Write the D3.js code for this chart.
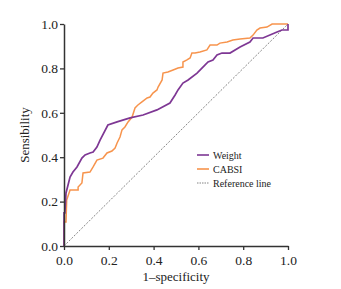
<!DOCTYPE html>
<html><head><meta charset="utf-8">
<script src="https://cdn.jsdelivr.net/npm/d3@7"></script>
<style>body{margin:0;background:#fff;}svg{display:block;}</style>
</head><body>
<svg id="c" width="341" height="289"></svg>
<script>
const tickValues = [0, 0.2, 0.4, 0.6, 0.8, 1.0];
const seriesNames = ["Weight", "CABSI", "Reference line"];
const weightX = [0,0,0.004,0.009,0.027,0.04,0.058,0.08,0.094,0.116,0.13,0.147,0.161,0.196,0.237,0.295,0.353,0.415,0.473,0.496,0.509,0.531,0.554,0.594,0.629,0.643,0.665,0.683,0.705,0.741,0.786,0.83,0.844,0.888,0.951,0.973,1,1];
const weightY = [0,0.149,0.149,0.239,0.311,0.333,0.356,0.396,0.41,0.419,0.423,0.446,0.477,0.545,0.559,0.577,0.59,0.613,0.644,0.68,0.703,0.734,0.748,0.779,0.815,0.829,0.838,0.86,0.869,0.869,0.896,0.919,0.937,0.937,0.964,0.973,0.973,1];
const cabsiX = [0,0,0.009,0.012,0.027,0.063,0.063,0.08,0.085,0.116,0.13,0.147,0.174,0.192,0.214,0.228,0.237,0.25,0.259,0.272,0.286,0.304,0.317,0.33,0.348,0.371,0.384,0.397,0.415,0.42,0.438,0.442,0.464,0.487,0.509,0.531,0.531,0.549,0.563,0.571,0.585,0.607,0.638,0.652,0.683,0.696,0.728,0.754,0.786,0.83,0.844,0.861,0.875,0.906,0.929,1];
const cabsiY = [0,0.108,0.108,0.207,0.252,0.252,0.266,0.284,0.329,0.333,0.356,0.387,0.396,0.419,0.428,0.441,0.464,0.491,0.523,0.536,0.559,0.581,0.622,0.635,0.649,0.667,0.671,0.689,0.703,0.716,0.748,0.779,0.784,0.793,0.802,0.806,0.829,0.838,0.847,0.869,0.869,0.874,0.883,0.905,0.905,0.914,0.919,0.928,0.932,0.937,0.95,0.973,0.982,0.986,1,1];
const refX = [0, 1];
const refY = [0, 1];

const svg = d3.select("#c");
const x = d3.scaleLinear().domain([0,1]).range([64,288]);
const y = d3.scaleLinear().domain([0,1]).range([246,24]);
const font = "'Liberation Serif','Times New Roman',serif";
const ink = "#222";

const line = d3.line().x(d=>x(d[0])).y(d=>y(d[1]));
const zip = (a,b)=>a.map((v,i)=>[v,b[i]]);

svg.append("path").datum(zip(refX,refY)).attr("d",line)
  .attr("fill","none").attr("stroke","#777").attr("stroke-width",0.9).attr("stroke-dasharray","2,1.5");
svg.append("path").datum(zip(cabsiX,cabsiY)).attr("d",line)
  .attr("fill","none").attr("stroke","#f7944d").attr("stroke-width",1.5);
svg.append("path").datum(zip(weightX,weightY)).attr("d",line)
  .attr("fill","none").attr("stroke","#7e3794").attr("stroke-width",1.7);

const fmt = d3.format(".1f");
const xa = svg.append("g").attr("transform","translate(0,246)")
  .call(d3.axisBottom(x).tickValues(tickValues).tickFormat(fmt).tickSize(4).tickSizeOuter(0));
const ya = svg.append("g").attr("transform","translate(64,0)")
  .call(d3.axisLeft(y).tickValues(tickValues).tickFormat(fmt).tickSize(4).tickSizeOuter(0));
[xa,ya].forEach(g=>{
  g.select(".domain").attr("stroke","#333").attr("stroke-width",1.5);
  g.selectAll(".tick line").attr("stroke","#333").attr("stroke-width",1.3);
  g.selectAll(".tick text").attr("fill",ink).style("font-family",font).style("font-size","13.5px");
});
xa.selectAll(".tick text").attr("dy","0.9em");
ya.selectAll(".tick text").attr("x",-6);

svg.append("text").attr("x",176).attr("y",281).attr("text-anchor","middle")
  .style("font-family",font).style("font-size","13px").attr("fill",ink).text("1–specificity");
svg.append("text").attr("transform","translate(29,135) rotate(-90)").attr("text-anchor","middle")
  .style("font-family",font).style("font-size","13px").attr("fill",ink).text("Sensibility");

const legColors = ["#7e3794","#f7944d","#777"];
const lg = svg.append("g");
seriesNames.forEach((n,i)=>{
  const yy = 155 + i*14;
  const l = lg.append("line").attr("x1",197).attr("x2",209).attr("y1",yy).attr("y2",yy)
    .attr("stroke",legColors[i]).attr("stroke-width",i<2?1.6:0.9);
  if(i===2) l.attr("stroke-dasharray","1.5,1");
  lg.append("text").attr("x",213).attr("y",yy+3.5).style("font-family",font)
    .style("font-size","10px").attr("fill",ink).text(n);
});
</script>
</body></html>
